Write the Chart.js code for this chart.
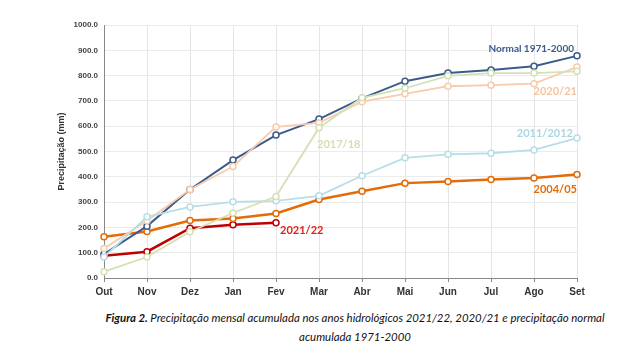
<!DOCTYPE html>
<html>
<head>
<meta charset="utf-8">
<script src="https://cdn.jsdelivr.net/npm/chart.js@4"></script>
<style>
body{margin:0;background:#fff;width:636px;height:347px;overflow:hidden;}
#caption{position:absolute;left:70px;width:570px;top:308px;text-align:center;font-family:Lato,"Open Sans",sans-serif;font-style:italic;font-size:11.4px;line-height:19px;color:#111;}
</style>
</head>
<body>
<canvas id="grph" width="636" height="304"></canvas>
<div id="caption"><b>Figura 2.</b> Precipitação mensal acumulada nos anos hidrológicos 2021/22, 2020/21 e precipitação normal<br>acumulada 1971-2000</div>
<script>
// months of the hydrological year
const MONTHS = ["Out","Nov","Dez","Jan","Fev","Mar","Abr","Mai","Jun","Jul","Ago","Set"];

// accumulated precipitation (mm)
const NORMAL = [95,205,350,466,565,628,710,778,810,822,837,878];
const Y2020 = [117,226,350,441,597,613,697,728,758,762,768,834];
const Y2017 = [25,83,183,257,322,594,712,750,799,810,810,817];
const Y2011 = [83,242,281,301,305,325,404,475,489,493,506,553];
const Y2004 = [163,184,227,235,255,310,343,375,381,389,395,409];
const Y2021 = [88,104,197,210,218];

const Y_TICKS = [0,100,200,300,400,500,600,700,800,900,1000];

function ds(label, data, color, width){
  return {
    label: label,
    data: data,
    borderColor: color,
    backgroundColor: "#fff",
    borderWidth: width,
    pointRadius: 3,
    pointBorderWidth: 1.5,
    pointBackgroundColor: "#fff",
    pointBorderColor: color,
    tension: 0
  };
}

// series labels drawn next to a chosen point
const tags = [
  {ds:0, idx:5, text:"2017/18", color:"#D3E1B5", dx:-2, dy:17, align:"left", size:11},
  {ds:1, idx:11, text:"2011/2012", color:"#A9D6E4", dx:-4, dy:-5, align:"right", size:11},
  {ds:2, idx:11, text:"2020/21", color:"#F6C3A0", dx:0, dy:24, align:"right", size:11},
  {ds:3, idx:11, text:"Normal 1971-2000", color:"#3B5B8C", dx:-3, dy:-7, align:"right", size:10},
  {ds:4, idx:11, text:"2004/05", color:"#E36C09", dx:0, dy:15, align:"right", size:11},
  {ds:5, idx:4, text:"2021/22", color:"#E0201B", dx:4, dy:8, align:"left", size:11}
];

const labelPlugin = {
  id: "labels",
  afterDatasetsDraw(chart){
    const ctx = chart.ctx;
    const xs = chart.scales.x, ys = chart.scales.y;
    ctx.save();
    ctx.textBaseline = "middle";
    tags.forEach(t => {
      const v = chart.data.datasets[t.ds].data[t.idx];
      ctx.font = "bold " + t.size + "px Lato, sans-serif";
      ctx.fillStyle = t.color;
      ctx.textAlign = t.align;
      ctx.fillText(t.text, xs.getPixelForValue(t.idx) + t.dx, ys.getPixelForValue(v) + t.dy);
    });
    ctx.restore();
  }
};

new Chart(document.getElementById("grph"), {
  type: "line",
  data: {
    labels: MONTHS,
    datasets: [
      ds("2017/18", Y2017, "#D3E1B5", 1.8),
      ds("2011/2012", Y2011, "#B7DEE8", 1.8),
      ds("2020/21", Y2020, "#F8CBAD", 1.8),
      ds("Normal 1971-2000", NORMAL, "#3B5B8C", 2),
      ds("2004/05", Y2004, "#E36C09", 2.5),
      ds("2021/22", Y2021, "#C00000", 2.5)
    ]
  },
  options: {
    responsive: false,
    animation: false,
    layout: {padding: {left: 56, right: 59, top: 25, bottom: 2}},
    plugins: {legend: {display: false}, tooltip: {enabled: false}},
    scales: {
      x: {
        offset: false,
        grid: {color: "#E4E4E4", tickLength: 4, tickColor: "#888"},
        border: {color: "#888"},
        ticks: {font: {family: "Arial", size: 10, weight: "bold"}, color: "#333", padding: 4, maxRotation: 0}
      },
      y: {
        min: 0, max: 1000,
        afterFit(scale){ scale.width = 48; },
        afterBuildTicks(scale){ scale.ticks = Y_TICKS.map(v => ({value: v})); },
        grid: {color: "#EBEBEB", drawTicks: false},
        border: {color: "#888"},
        title: {display: true, text: "Precipitação (mm)", font: {family: "Arial", size: 9, weight: "bold"}, color: "#333", padding: 0},
        ticks: {font: {family: "Arial", size: 8, weight: "bold"}, color: "#444", padding: 6,
          callback: v => v.toFixed(1)}
      }
    }
  },
  plugins: [labelPlugin]
});
</script>
</body>
</html>
